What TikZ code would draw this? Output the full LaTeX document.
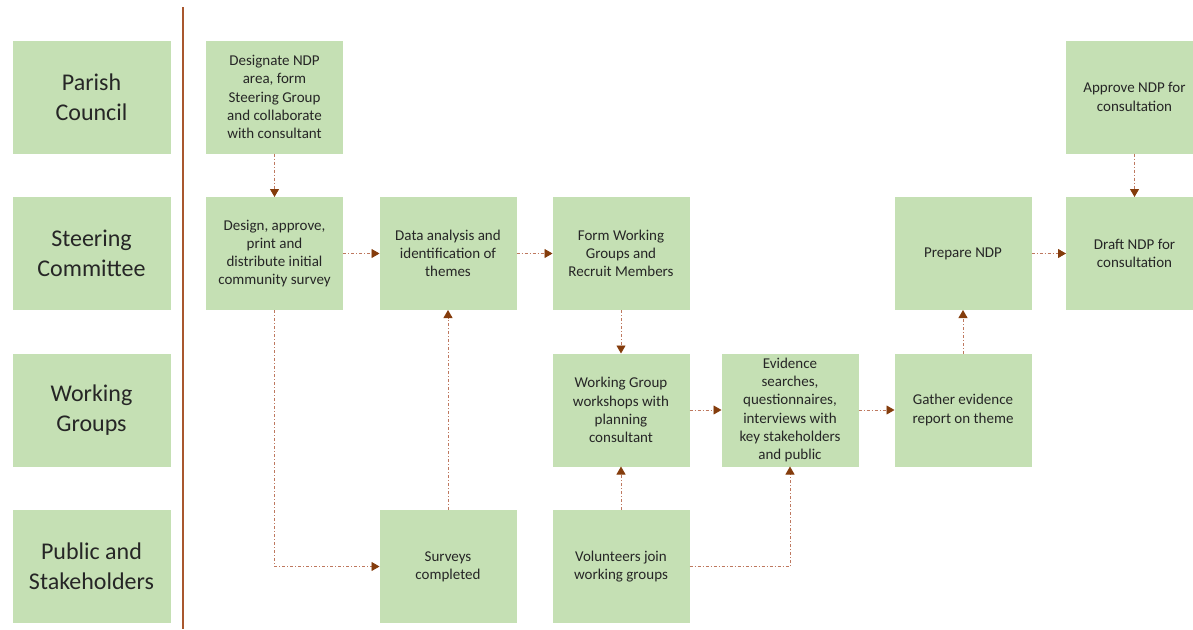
\documentclass[tikz,border=0pt]{standalone}
\usepackage{fontspec}
\setmainfont{Carlito}
\usetikzlibrary{arrows.meta}
\definecolor{boxgreen}{RGB}{197,224,180}
\definecolor{txt}{RGB}{38,38,38}
\definecolor{arrowc}{RGB}{132,60,12}
\definecolor{linec}{RGB}{190,120,95}
\definecolor{rule}{RGB}{169,87,46}
\tikzset{
  stage/.style={rectangle, fill=boxgreen, draw=none, outer sep=0pt, inner sep=2pt,
    minimum width=137pt, minimum height=113pt, align=center, text=txt,
    font=\fontsize{15pt}{18.3pt}\selectfont},
  lane/.style={stage, minimum width=158pt, font=\fontsize{24pt}{30pt}\selectfont},
  flow/.style={draw=linec, line width=0.9pt,
    dash pattern=on 3pt off 2pt on 1pt off 2pt,
    -{Triangle[length=8pt,width=9pt,fill=arrowc,color=arrowc]}}
}
\begin{document}
\begin{tikzpicture}[x=1pt,y=-1pt]
\useasboundingbox (0,0) rectangle (1193,629);
\clip (0,0) rectangle (1193,629);
% lane labels
\node[lane] (l1) at (91.5,97) {Parish\\Council};
\node[lane] (l2) at (91.5,253.5) {Steering\\Committee};
\node[lane] (l3) at (91.5,410) {Working\\Groups};
\node[lane] (l4) at (91.5,566.5) {Public and\\Stakeholders};
% separator
\coordinate (st) at (182.5,7);
\coordinate (sb) at (182.5,629);
\draw[rule, line width=2pt] (st) -- (sb);
% stages
\node[stage] (des) at (274.5,97) {Designate NDP\\area, form\\Steering Group\\and collaborate\\with consultant};
\node[stage] (app) at (1134.5,97) {Approve NDP for\\consultation};
\node[stage] (dsn) at (274.5,253.5) {Design, approve,\\print and\\distribute initial\\community survey};
\node[stage] (dat) at (448,253.5) {Data analysis and\\identification of\\themes};
\node[stage] (frm) at (621,253.5) {Form Working\\Groups and\\Recruit Members};
\node[stage] (pre) at (963,253.5) {Prepare NDP};
\node[stage] (dra) at (1134.5,253.5) {Draft NDP for\\consultation};
\node[stage] (wgw) at (621,410) {Working Group\\workshops with\\planning\\consultant};
\node[stage] (evi) at (790,410) {Evidence\\searches,\\questionnaires,\\interviews with\\key stakeholders\\and public};
\node[stage] (gat) at (963,410) {Gather evidence\\report on theme};
\node[stage] (sur) at (448,566.5) {Surveys\\completed};
\node[stage] (vol) at (621,566.5) {Volunteers join\\working groups};
% connectors
\draw[flow] (des.south) -- (dsn.north);
\draw[flow] (dsn.east) -- (dat.west);
\draw[flow] (dat.east) -- (frm.west);
\draw[flow] (frm.south) -- (wgw.north);
\draw[flow] (wgw.east) -- (evi.west);
\draw[flow] (evi.east) -- (gat.west);
\draw[flow] (gat.north) -- (pre.south);
\draw[flow] (pre.east) -- (dra.west);
\draw[flow] (app.south) -- (dra.north);
\draw[flow] (dsn.south) |- (sur.west);
\draw[flow] (sur.north) -- (dat.south);
\draw[flow] (vol.north) -- (wgw.south);
\draw[flow] (vol.east) -| (evi.south);
\end{tikzpicture}
\end{document}
